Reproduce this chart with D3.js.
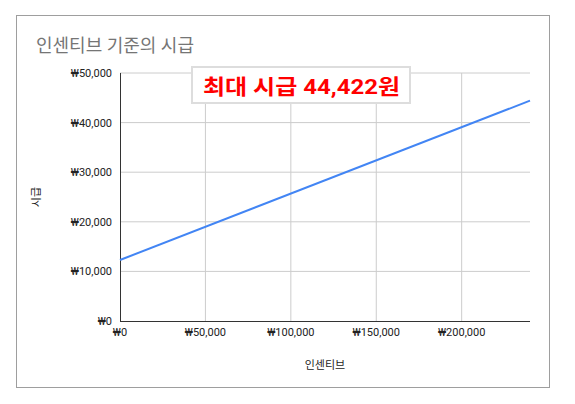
<!DOCTYPE html><html><head><meta charset="utf-8"><script src="https://cdn.jsdelivr.net/npm/d3@7"></script>
<style>body{margin:0;background:#fff}text{font-family:Roboto,"Noto Sans CJK KR",sans-serif}</style></head><body>
<svg id="c" width="575" height="404"></svg>
<script>
const incentive=[0,240000];
const wage=[12300,44422];
const xTicks=[0,50000,100000,150000,200000];
const yTicks=[0,10000,20000,30000,40000,50000];
const title="인센티브 기준의 시급", xLabel="인센티브", yLabel="시급", note="최대 시급 44,422원";
const svg=d3.select("#c");
svg.append("rect").attr("x",16.5).attr("y",15.5).attr("width",533).attr("height",372).attr("fill","#fff").attr("stroke","#9e9e9e");
const x=d3.scaleLinear().domain([0,240000]).range([120,530]);
const y=d3.scaleLinear().domain([0,50000]).range([321,73]);
const fmt=v=>"₩"+d3.format(",")(v);
svg.append("g").selectAll("line").data(xTicks.slice(1)).join("line").attr("x1",x).attr("x2",x).attr("y1",73).attr("y2",321).attr("stroke","#ccc");
svg.append("g").selectAll("line").data(yTicks.slice(1)).join("line").attr("x1",120).attr("x2",530).attr("y1",y).attr("y2",y).attr("stroke","#ccc");
svg.append("line").attr("x1",120).attr("x2",530).attr("y1",321.5).attr("y2",321.5).attr("stroke","#333");
svg.append("line").attr("x1",120.5).attr("x2",120.5).attr("y1",73).attr("y2",321).attr("stroke","#333");
svg.append("g").selectAll("text").data(yTicks).join("text").attr("x",112).attr("y",d=>y(d)+4).attr("text-anchor","end").attr("font-size",11).attr("fill","#222").text(fmt);
svg.append("g").selectAll("text").data(xTicks).join("text").attr("x",x).attr("y",336).attr("text-anchor","middle").attr("font-size",11).attr("fill","#222").text(fmt);
svg.append("path").datum(incentive.map((d,i)=>[d,wage[i]])).attr("d",d3.line().x(d=>x(d[0])).y(d=>y(d[1]))).attr("fill","none").attr("stroke","#4285f4").attr("stroke-width",2);
svg.append("text").attr("x",36).attr("y",52).attr("font-size",18).attr("fill","#757575").text(title);
svg.append("text").attr("x",325).attr("y",369).attr("text-anchor","middle").attr("font-size",11).attr("fill","#222").text(xLabel);
svg.append("text").attr("transform","translate(40,197) rotate(-90)").attr("text-anchor","middle").attr("font-size",11).attr("fill","#222").text(yLabel);
svg.append("rect").attr("x",192).attr("y",67).attr("width",218).attr("height",36).attr("fill","#fff").attr("stroke","#ddd").attr("stroke-width",2);
svg.append("text").attr("x",203).attr("y",94).attr("font-size",21).attr("font-weight","bold").attr("fill","#ff0000").attr("textLength",197).attr("lengthAdjust","spacingAndGlyphs").text(note);
</script></body></html>
